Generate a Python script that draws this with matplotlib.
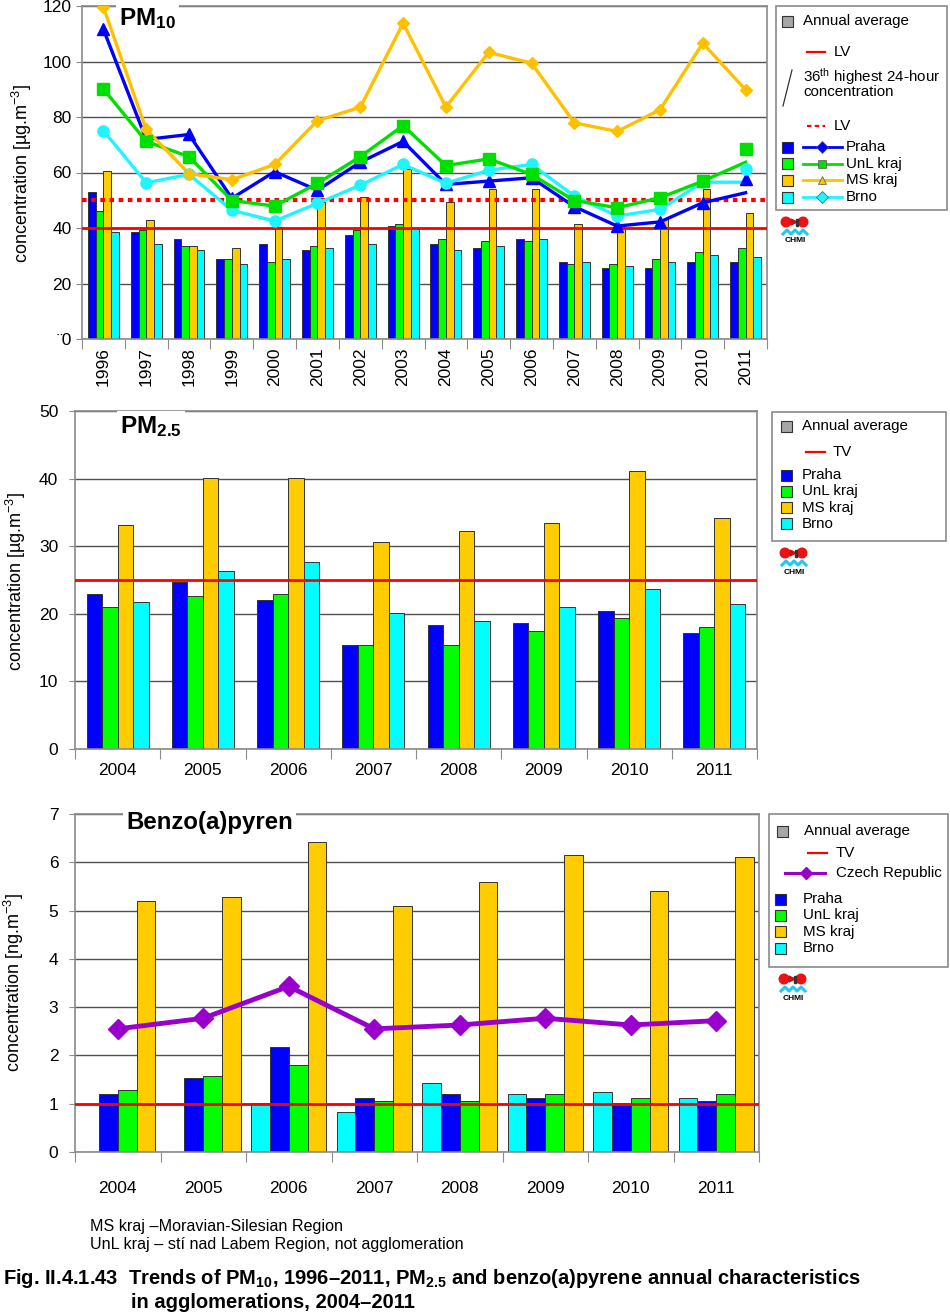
import numpy as np
import matplotlib.pyplot as plt
from matplotlib.patches import Rectangle, Circle, Polygon
from matplotlib.lines import Line2D

plt.rcParams['font.family'] = ['Liberation Sans', 'DejaVu Sans']
plt.rcParams['mathtext.fontset'] = 'custom'
plt.rcParams['mathtext.rm'] = 'Liberation Sans'
plt.rcParams['mathtext.it'] = 'Liberation Sans:italic'
plt.rcParams['mathtext.bf'] = 'Liberation Sans:bold'

W, H = 950, 1314

# ---- PM10, 1996-2011 ----
pm10_years = [str(y) for y in range(1996, 2012)]
pm10_ytick_labels = ['¨0', '20', '40', '60', '80', '100', '120']
# annual averages
pm10_praha = [52.8, 38.4, 35.9, 28.7, 34.4, 32.0, 37.5, 40.6, 34.4, 32.7, 35.9, 27.9, 25.6, 25.6, 27.9, 27.9]
pm10_unl = [46.3, 39.2, 33.4, 28.7, 27.9, 33.4, 39.2, 41.3, 35.9, 35.2, 35.2, 27.2, 27.2, 28.7, 31.2, 32.7]
pm10_ms = [60.4, 43.0, 33.4, 32.7, 40.5, 49.5, 51.0, 61.1, 49.5, 54.2, 54.2, 41.3, 40.5, 43.1, 54.2, 45.4]
pm10_brno = [38.4, 34.4, 32.0, 27.2, 28.7, 32.7, 34.4, 40.0, 32.0, 33.4, 35.9, 27.9, 26.3, 27.9, 30.3, 29.6]
# 36th highest 24-hour concentration (lines)
praha_36 = [111.6, 71.9, 73.7, 50.7, 60.3, 53.6, 63.7, 71.2, 55.7, 56.9, 58.1, 47.7, 40.7, 42.2, 49.1, 52.7]
unl_36 = [90.1, 71.2, 65.7, 49.9, 47.9, 56.1, 65.7, 76.9, 62.5, 64.9, 59.3, 49.9, 47.3, 50.9, 56.9, 63.7]
ms_36 = [119.6, 75.5, 59.6, 57.4, 62.9, 78.7, 83.5, 113.8, 83.6, 103.3, 99.4, 77.9, 74.8, 82.6, 106.6, 89.8]
brno_36 = [75.1, 56.3, 59.3, 46.4, 42.5, 48.9, 55.4, 62.9, 56.1, 60.8, 62.9, 51.5, 44.3, 46.7, 56.5, 56.5]
# 2011 markers sit off the line ends in the original
praha_36_mark_2011 = 57.5
unl_36_mark_2011 = 68.5
brno_36_mark_2011 = 61.4
pm10_lv_year = 40
pm10_lv_day = 50

# ---- PM2.5, 2004-2011 ----
years_short = [str(y) for y in range(2004, 2012)]
pm25_praha = [23.0, 24.7, 22.0, 15.4, 18.4, 18.7, 20.4, 17.1]
pm25_unl = [21.0, 22.7, 23.0, 15.4, 15.4, 17.4, 19.4, 18.0]
pm25_ms = [33.2, 40.1, 40.1, 30.6, 32.2, 33.5, 41.1, 34.2]
pm25_brno = [21.7, 26.3, 27.6, 20.1, 19.0, 21.0, 23.7, 21.4]
pm25_tv = 25

# ---- Benzo(a)pyrene, 2004-2011 ----
bap_brno = [np.nan, np.nan, 1.01, 0.83, 1.43, 1.20, 1.24, 1.11]
bap_praha = [1.20, 1.53, 2.17, 1.11, 1.20, 1.11, 1.01, 1.06]
bap_unl = [1.29, 1.57, 1.80, 1.06, 1.06, 1.20, 1.11, 1.20]
bap_ms = [5.19, 5.28, 6.43, 5.09, 5.60, 6.16, 5.41, 6.10]
bap_cr = [2.55, 2.77, 3.43, 2.55, 2.63, 2.77, 2.63, 2.72]
bap_tv = 1

C_PRAHA = '#0000ff'
C_UNL = '#00ff00'
C_MS = '#ffcc00'
C_BRNO = '#00ffff'
L_UNL = '#00e000'
L_MS = '#ffc000'
L_BRNO = '#20f4ff'
C_CR = '#9900cc'
EDGE = '#333333'
GRID = '#505050'
FRAME = '#8a8a8a'
TICK_FS = 12.5

fig = plt.figure(figsize=(W / 100, H / 100), dpi=100)


def px_axes(x0, y0, x1, y1):
    return fig.add_axes([x0 / W, 1 - y1 / H, (x1 - x0) / W, (y1 - y0) / H])


def style_axes(ax, n, ymax, ystep, xpad):
    ax.set_xlim(-0.5, n - 0.5)
    ax.set_ylim(0, ymax)
    ax.set_yticks(np.arange(0, ymax + ystep / 2, ystep))
    ax.set_xticks(np.arange(n + 1) - 0.5)
    ax.set_xticklabels([])
    ax.set_xticks(np.arange(n), minor=True)
    ax.tick_params(axis='x', which='major', length=7, color=FRAME)
    ax.tick_params(axis='x', which='minor', length=0, labelsize=TICK_FS, pad=xpad)
    ax.tick_params(axis='y', length=4, color=FRAME, labelsize=TICK_FS)
    ax.yaxis.grid(True, color=GRID, lw=1)
    ax.set_axisbelow(True)
    for s in ax.spines.values():
        s.set_color(FRAME)
        s.set_linewidth(1.2)


def draw_bars(ax, series, colors, width, offsets):
    x = np.arange(len(series[0]))
    for vals, c, off in zip(series, colors, offsets):
        ax.bar(x + off, vals, width, color=c, edgecolor=EDGE, linewidth=0.7, zorder=2)


# ---------- PM10 panel ----------
ax1 = px_axes(82, 6, 767, 339)
n1 = len(pm10_years)
x1 = np.arange(n1)
style_axes(ax1, n1, 120, 20, 6)
ax1.set_yticklabels(pm10_ytick_labels)
ax1.set_xticklabels(pm10_years, minor=True, rotation=90)
draw_bars(ax1, [pm10_praha, pm10_unl, pm10_ms, pm10_brno],
          [C_PRAHA, C_UNL, C_MS, C_BRNO], 0.18, [-0.27, -0.09, 0.09, 0.27])
ax1.axhline(pm10_lv_year, color='#ff0000', lw=2, zorder=3)
ax1.axhline(pm10_lv_day, color='#ff0000', lw=3, ls=(0, (1.1, 1.1)), zorder=3)

praha_marks = praha_36[:-1] + [praha_36_mark_2011]
unl_marks = unl_36[:-1] + [unl_36_mark_2011]
brno_marks = brno_36[:-1] + [brno_36_mark_2011]
ax1.plot(x1, praha_36, color=C_PRAHA, lw=2.4, zorder=4)
ax1.plot(x1, praha_marks, ls='none', marker='^', ms=8, color=C_PRAHA, zorder=5)
ax1.plot(x1, brno_36, color=L_BRNO, lw=2.4, zorder=4)
ax1.plot(x1, brno_marks, ls='none', marker='o', ms=8, color=L_BRNO, zorder=5)
ax1.plot(x1, unl_36, color=L_UNL, lw=2.4, zorder=4)
ax1.plot(x1, unl_marks, ls='none', marker='s', ms=8, color=L_UNL, zorder=5)
ax1.plot(x1, ms_36, color=L_MS, lw=2.4, zorder=4)
ax1.plot(x1, ms_36, ls='none', marker='D', ms=6.5, color=L_MS, zorder=5)

# ---------- PM2.5 panel ----------
ax2 = px_axes(75, 411, 757, 749)
n2 = len(years_short)
style_axes(ax2, n2, 50, 10, 10)
ax2.set_xticklabels(years_short, minor=True)
ax2.tick_params(axis='y', pad=8)
draw_bars(ax2, [pm25_praha, pm25_unl, pm25_ms, pm25_brno],
          [C_PRAHA, C_UNL, C_MS, C_BRNO], 0.182, [-0.273, -0.091, 0.091, 0.273])
ax2.axhline(pm25_tv, color='#ff0000', lw=2, zorder=3)

# ---------- BaP panel ----------
ax3 = px_axes(75, 814, 759, 1152)
style_axes(ax3, n2, 7, 1, 21)
ax3.set_xticklabels(years_short, minor=True)
ax3.tick_params(axis='y', pad=8)
draw_bars(ax3, [bap_brno, bap_praha, bap_unl, bap_ms],
          [C_BRNO, C_PRAHA, C_UNL, C_MS], 0.22, [-0.33, -0.11, 0.11, 0.33])
ax3.axhline(bap_tv, color='#ff0000', lw=2, zorder=3)
ax3.plot(np.arange(n2), bap_cr, color=C_CR, lw=3.5, marker='D', ms=10, zorder=4)

# ---------- overlay: titles, legends, labels, logos, caption ----------
ov = fig.add_axes([0, 0, 1, 1], zorder=10)
ov.set_xlim(0, W)
ov.set_ylim(H, 0)
ov.axis('off')
ov.patch.set_visible(False)

title_box = dict(fc='white', ec='none', pad=2.5)
ov.text(119, 19, r'$\mathbf{PM_{10}}$', fontsize=17.5, va='center', bbox=title_box)
ov.text(120, 427, r'$\mathbf{PM_{2.5}}$', fontsize=17.5, va='center', bbox=title_box)
ov.text(126, 823, 'Benzo(a)pyren', fontsize=17.3, fontweight='bold', va='center', bbox=title_box)

ylab = 'concentration [µg.m$^{-3}$]'
ov.text(22, 173, ylab, rotation=90, fontsize=13, ha='center', va='center')
ov.text(16, 581, ylab, rotation=90, fontsize=13, ha='center', va='center')
ov.text(14, 983, 'concentration [ng.m$^{-3}$]', rotation=90, fontsize=13, ha='center', va='center')

LEG_FS = 10.9


def box(x0, y0, x1, y1):
    ov.add_patch(Rectangle((x0, y0), x1 - x0, y1 - y0, fc='white', ec=FRAME, lw=1.2))


def swatch(x, y, c, s=11):
    ov.add_patch(Rectangle((x, y - s / 2), s, s, fc=c, ec=EDGE, lw=0.8))


def label(x, y, t):
    ov.text(x, y, t, fontsize=LEG_FS, va='center', ha='left')


def logo(cx, cy):
    ov.add_patch(Circle((cx - 9, cy), 4.8, color='#ee1111'))
    ov.add_patch(Circle((cx + 8, cy), 4.8, color='#ee1111'))
    ov.add_patch(Polygon([[cx - 4, cy - 3], [cx + 2, cy], [cx - 4, cy + 3]], color='#cc1111'))
    ov.add_patch(Rectangle((cx + 1, cy - 3.5), 1.6, 7, color='#333333'))
    wx = [cx - 12, cx - 8, cx - 4, cx, cx + 4, cx + 8, cx + 12]
    wy = [cy + 12, cy + 8, cy + 12, cy + 8, cy + 12, cy + 8, cy + 12]
    ov.add_line(Line2D(wx, wy, color='#22c8ee', lw=2.2))
    ov.text(cx, cy + 19, 'CHMI', fontsize=6, fontweight='bold', ha='center', va='center')


# PM10 legend
box(776, 6, 947, 210)
swatch(782, 21, '#a6a6a6')
label(803, 21, 'Annual average')
ov.add_line(Line2D([807, 825], [52, 52], color='#ff0000', lw=1.6))
label(834, 52, 'LV')
ov.add_line(Line2D([783, 792], [106, 70], color='#333333', lw=0.9))
label(803, 77, '36$^{\\mathrm{th}}$ highest 24-hour')
label(803, 92, 'concentration')
ov.add_line(Line2D([807, 825], [126, 126], color='#ff0000', lw=1.6, ls=(0, (2, 1.5))))
label(834, 126, 'LV')
leg1 = [('Praha', C_PRAHA, C_PRAHA, 'D'), ('UnL kraj', C_UNL, L_UNL, 's'),
        ('MS kraj', C_MS, L_MS, '^'), ('Brno', C_BRNO, L_BRNO, 'D')]
for i, (name, fc, lc, mk) in enumerate(leg1):
    y = 147 + i * 16.7
    swatch(782, y, fc)
    ov.add_line(Line2D([803, 842], [y, y], color=lc, lw=2))
    ov.add_line(Line2D([822], [y], marker=mk, ms=6, color=lc, mec='#555555', mew=0.5))
    label(846, y, name)
logo(795, 222)

# PM2.5 legend
box(772, 412, 946, 541)
swatch(781, 426, '#a6a6a6')
label(802, 426, 'Annual average')
ov.add_line(Line2D([806, 825], [452, 452], color='#ff0000', lw=1.6))
label(833, 452, 'TV')
for i, (name, fc) in enumerate([('Praha', C_PRAHA), ('UnL kraj', C_UNL),
                                ('MS kraj', C_MS), ('Brno', C_BRNO)]):
    y = 475 + i * 16.3
    swatch(781, y, fc)
    label(802, y, name)
logo(794, 553)

# BaP legend
box(769, 814, 948, 967)
swatch(777, 831, '#a6a6a6')
label(804, 831, 'Annual average')
ov.add_line(Line2D([808, 827], [853, 853], color='#ff0000', lw=1.6))
label(836, 853, 'TV')
ov.add_line(Line2D([785, 825], [873, 873], color=C_CR, lw=2.2))
ov.add_line(Line2D([806], [873], marker='D', ms=6, color=C_CR))
label(836, 873, 'Czech Republic')
for i, (name, fc) in enumerate([('Praha', C_PRAHA), ('UnL kraj', C_UNL),
                                ('MS kraj', C_MS), ('Brno', C_BRNO)]):
    y = 899 + i * 16.4
    swatch(775, y, fc)
    label(803, y, name)
logo(793, 979)

# footnotes and caption
ov.text(90, 1226, 'MS kraj –Moravian-Silesian Region', fontsize=11.6, va='center')
ov.text(90, 1244, 'UnL kraj – stí nad Labem Region, not agglomeration', fontsize=11.6, va='center')
ov.text(3, 1279, r'Fig. II.4.1.43  Trends of PM$_{\mathbf{10}}$, 1996–2011, PM$_{\mathbf{2.5}}$ and '
        'benzo(a)pyrene annual characteristics', fontsize=14.5, fontweight='bold', va='center')
ov.text(131, 1302, 'in agglomerations, 2004–2011', fontsize=14.5, fontweight='bold', va='center')

fig.savefig('out.png', dpi=100)
plt.close(fig)
